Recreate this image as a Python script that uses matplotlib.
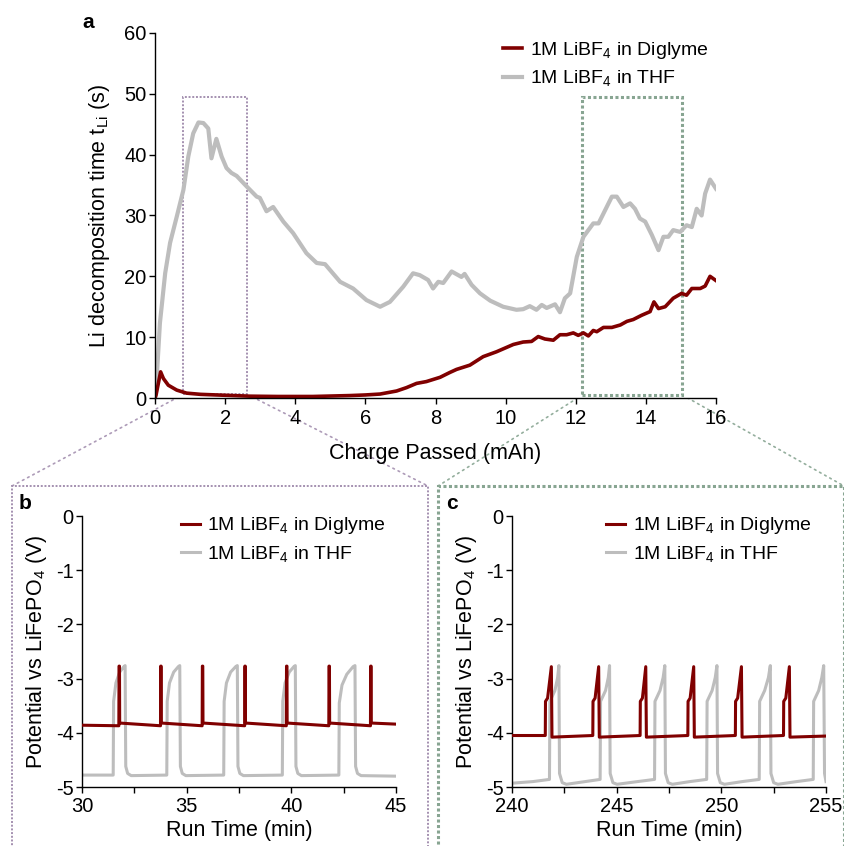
import matplotlib
matplotlib.use("Agg")
import matplotlib.pyplot as plt
from matplotlib.patches import Rectangle, ConnectionPatch
from matplotlib.ticker import MultipleLocator

plt.rcParams['font.family'] = ['Liberation Sans', 'DejaVu Sans']
plt.rcParams['mathtext.default'] = 'regular'

# ---------------- data: panel a ----------------
thf_x = [0.0, 0.02, 0.14, 0.29, 0.43, 0.62, 0.81, 0.95, 1.09, 1.24, 1.38, 1.52, 1.61, 1.75, 1.90,
         2.04, 2.18, 2.33, 2.61, 2.90, 2.99, 3.18, 3.37, 3.66, 3.94, 4.32, 4.61, 4.85, 5.28, 5.65,
         6.03, 6.42, 6.70, 7.08, 7.36, 7.55, 7.79, 7.93, 8.08, 8.22, 8.46, 8.74, 8.83, 9.03, 9.27,
         9.56, 9.93, 10.31, 10.50, 10.69, 10.88, 11.03, 11.17, 11.41, 11.55, 11.69, 11.84, 12.03,
         12.22, 12.50, 12.65, 12.84, 13.03, 13.17, 13.36, 13.55, 13.69, 13.83, 13.98, 14.17, 14.36,
         14.50, 14.64, 14.78, 14.98, 15.16, 15.31, 15.45, 15.59, 15.69, 15.83, 16.0]
thf_y = [0.0, 0.5, 12.3, 20.5, 25.5, 29.8, 34.2, 39.7, 43.5, 45.3, 45.2, 44.3, 39.4, 42.6, 39.7,
         37.8, 37.0, 36.5, 34.8, 33.1, 32.9, 30.7, 31.4, 29.0, 27.1, 23.8, 22.2, 22.0, 19.1, 18.0,
         16.1, 15.0, 15.8, 18.3, 20.5, 20.2, 19.4, 18.0, 19.1, 18.9, 20.8, 19.9, 20.4, 18.6, 17.2,
         16.0, 15.0, 14.5, 14.6, 15.1, 14.5, 15.3, 14.8, 15.4, 14.1, 16.4, 17.2, 23.2,
         26.5, 28.7, 28.7, 30.9, 33.1, 33.1, 31.4, 32.0, 31.1, 29.5, 29.0, 26.8, 24.3,
         26.5, 26.5, 27.6, 27.3, 28.4, 28.1, 31.1, 30.0, 33.6, 35.9, 34.4]

dig_x = [0.0, 0.03, 0.16, 0.24, 0.38, 0.62, 0.9, 1.3, 1.75, 2.7, 3.5, 4.5, 5.56, 6.0, 6.42, 6.89,
         7.17, 7.46, 7.74, 8.13, 8.41, 8.60, 8.98, 9.36, 9.74, 10.22, 10.50, 10.74, 10.93, 11.12,
         11.36, 11.55, 11.74, 11.93, 12.07, 12.22, 12.36, 12.50, 12.60, 12.79, 13.03, 13.27, 13.46,
         13.64, 13.88, 14.12, 14.23, 14.36, 14.55, 14.78, 15.02, 15.16, 15.31, 15.55, 15.69, 15.83, 16.0]
dig_y = [0.0, 0.5, 4.3, 3.2, 2.1, 1.3, 0.8, 0.6, 0.5, 0.3, 0.25, 0.25, 0.4, 0.5, 0.65, 1.15,
         1.7, 2.4, 2.7, 3.4, 4.2, 4.7, 5.4, 6.8, 7.6, 8.8, 9.2, 9.3, 10.1, 9.7,
         9.5, 10.4, 10.4, 10.7, 10.3, 10.7, 10.2, 11.1, 10.9, 11.6, 11.6, 12.0, 12.6,
         12.9, 13.6, 14.2, 15.8, 14.7, 15.0, 16.4, 17.2, 16.9, 18.0, 18.0, 18.4, 20.0, 19.3]

# zoom windows marked in panel a (x range mAh, y range s)
zoom_b = [0.81, 2.63, 0.6, 49.4]
zoom_c = [12.19, 15.04, 0.5, 49.4]

# ---------------- data: panel b ----------------
b_dig_t = [30.0, 31.76, 31.77, 31.79, 31.80, 33.75, 33.76, 33.78, 33.79, 35.74, 35.75, 35.77, 35.78,
           37.77, 37.78, 37.80, 37.81, 39.76, 39.77, 39.79, 39.80, 41.79, 41.80, 41.82, 41.83,
           43.78, 43.79, 43.81, 43.82, 45.0]
b_dig_v = [-3.86, -3.87, -2.77, -2.77, -3.82, -3.87, -2.77, -2.77, -3.82, -3.87, -2.77, -2.77, -3.82,
           -3.87, -2.77, -2.77, -3.82, -3.87, -2.77, -2.77, -3.82, -3.87, -2.77, -2.77, -3.82,
           -3.87, -2.77, -2.77, -3.82, -3.84]

b_thf_t = [30.0,
           31.49, 31.51, 31.62, 31.80, 32.00, 32.06, 32.09, 32.18, 32.35,
           34.05, 34.07, 34.18, 34.38, 34.60, 34.67, 34.70, 34.79, 34.96,
           36.77, 36.79, 36.90, 37.10, 37.34, 37.42, 37.45, 37.54, 37.71,
           39.57, 39.59, 39.70, 39.90, 40.12, 40.19, 40.22, 40.31, 40.48,
           42.27, 42.29, 42.42, 42.65, 42.95, 43.04, 43.07, 43.16, 43.33,
           45.0]
b_thf_v = [-4.78,
           -4.78, -3.42, -3.08, -2.88, -2.78, -2.76, -4.62, -4.75, -4.79,
           -4.78, -3.42, -3.08, -2.88, -2.78, -2.76, -4.62, -4.75, -4.79,
           -4.78, -3.42, -3.08, -2.88, -2.78, -2.76, -4.62, -4.75, -4.79,
           -4.78, -3.42, -3.08, -2.88, -2.78, -2.76, -4.62, -4.75, -4.79,
           -4.78, -3.45, -3.12, -2.92, -2.78, -2.76, -4.62, -4.75, -4.79,
           -4.80]

# ---------------- data: panel c ----------------
c_dig_t = [240.0,
           241.59, 241.60, 241.70, 241.88, 241.91, 243.86,
           243.87, 243.97, 244.14, 244.17, 246.12,
           246.13, 246.23, 246.39, 246.42, 248.40,
           248.41, 248.51, 248.68, 248.71, 250.67,
           250.68, 250.78, 250.96, 250.99, 252.97,
           252.98, 253.08, 253.25, 253.28, 255.0]
c_dig_v = [-4.05,
           -4.05, -3.42, -3.36, -2.78, -4.08, -4.05,
           -3.42, -3.36, -2.78, -4.08, -4.05,
           -3.42, -3.36, -2.78, -4.08, -4.05,
           -3.42, -3.36, -2.78, -4.08, -4.05,
           -3.42, -3.36, -2.78, -4.08, -4.05,
           -3.42, -3.36, -2.78, -4.08, -4.06]

c_thf_t = [240.0, 241.0,
           241.79, 241.81, 242.05, 242.18, 242.24, 242.27, 242.40, 242.60, 243.5,
           244.21, 244.23, 244.47, 244.60, 244.66, 244.69, 244.82, 245.02, 246.0,
           246.81, 246.83, 247.07, 247.22, 247.30, 247.33, 247.46, 247.66, 248.5,
           249.30, 249.32, 249.56, 249.71, 249.79, 249.82, 249.95, 250.15, 251.0,
           251.81, 251.83, 252.07, 252.25, 252.34, 252.37, 252.50, 252.70, 253.6,
           254.39, 254.41, 254.65, 254.80, 254.89, 254.93, 255.0]
c_thf_v = [-4.93, -4.90,
           -4.86, -3.42, -3.22, -2.98, -2.76, -4.75, -4.92, -4.95, -4.90,
           -4.86, -3.42, -3.22, -2.98, -2.76, -4.75, -4.92, -4.95, -4.90,
           -4.86, -3.42, -3.22, -2.98, -2.76, -4.75, -4.92, -4.95, -4.90,
           -4.86, -3.42, -3.22, -2.98, -2.76, -4.75, -4.92, -4.95, -4.90,
           -4.86, -3.42, -3.22, -2.98, -2.76, -4.75, -4.92, -4.95, -4.90,
           -4.86, -3.42, -3.22, -2.98, -2.76, -4.75, -4.90]

lab_dig = "1M LiBF$_4$ in Diglyme"
lab_thf = "1M LiBF$_4$ in THF"

RED = "#800000"
GRAY = "#bdbdbd"
PURPLE = "#a490b0"
GREEN = "#88a592"

W, H = 845, 846
fig = plt.figure(figsize=(W / 100, H / 100), dpi=100)

TICK_FS = 14.5
LAB_FS = 15.5
LEG_FS = 14


def rect(l, t, r, b):
    return [l / W, 1 - b / H, (r - l) / W, (b - t) / H]


def style(ax, pad=2):
    for s in ['top', 'right']:
        ax.spines[s].set_visible(False)
    for s in ['left', 'bottom']:
        ax.spines[s].set_linewidth(1.0)
    ax.tick_params(which='both', direction='out', length=4, width=1, labelsize=TICK_FS, pad=2)
    ax.tick_params(axis='x', pad=pad)


# ---------- panel a ----------
axa = fig.add_axes(rect(155, 33, 716, 398))
axa.plot(thf_x, thf_y, color=GRAY, lw=3.0, label=lab_thf, solid_joinstyle='round')
axa.plot(dig_x, dig_y, color=RED, lw=2.6, label=lab_dig, solid_joinstyle='round')
axa.set_xlim(0, 16)
axa.set_ylim(0, 60)
axa.set_xticks(range(0, 17, 2))
axa.set_yticks(range(0, 61, 10))
style(axa, pad=4)
axa.set_xlabel("Charge Passed (mAh)", fontsize=LAB_FS, labelpad=11)
axa.set_ylabel("Li decomposition time t$_{Li}$ (s)", fontsize=LAB_FS, labelpad=9)
hd, ld = axa.get_legend_handles_labels()
axa.legend([hd[1], hd[0]], [ld[1], ld[0]], loc='upper left', bbox_to_anchor=(0.60, 1.014),
           frameon=False, fontsize=LEG_FS, handlelength=0.95, handletextpad=0.4, labelspacing=0.4,
           borderaxespad=0.2)
for z, col, lw, pat in [(zoom_b, PURPLE, 1.4, (0, (1, 0.9))), (zoom_c, GREEN, 2.2, (0, (1, 0.8)))]:
    axa.add_patch(Rectangle((z[0], z[2]), z[1] - z[0], z[3] - z[2], fill=False,
                            edgecolor=col, lw=lw, linestyle=pat, zorder=1, clip_on=False))
fig.text(88 / W, 1 - 22 / H, "a", fontsize=15, fontweight='bold', ha='center', va='center')

# ---------- panels b, c ----------
axb = fig.add_axes(rect(82, 516, 396, 787))
axc = fig.add_axes(rect(512, 516, 826, 787))
for ax, tt, tv, dt, dv, x0, x1 in [(axb, b_thf_t, b_thf_v, b_dig_t, b_dig_v, 30, 45),
                                   (axc, c_thf_t, c_thf_v, c_dig_t, c_dig_v, 240, 255)]:
    ax.plot(dt, dv, color=RED, lw=2.2, label=lab_dig, zorder=3)
    ax.plot(tt, tv, color=GRAY, lw=2.2, label=lab_thf, zorder=2)
    ax.set_xlim(x0, x1)
    ax.set_ylim(-5, 0)
    ax.xaxis.set_major_locator(MultipleLocator(5))
    ax.xaxis.set_minor_locator(MultipleLocator(2.5))
    ax.set_yticks([0, -1, -2, -3, -4, -5])
    ax.set_yticklabels(['0', '-1', '-2', '-3', '-4', '-5'])
    style(ax, pad=3)
    ax.set_xlabel("Run Time (min)", fontsize=LAB_FS, labelpad=3)
    ax.set_ylabel("Potential vs LiFePO$_4$ (V)", fontsize=LAB_FS, labelpad=5)
    ax.legend(loc='upper left', bbox_to_anchor=(0.26 if ax is axb else 0.245, 1.067), frameon=False,
              fontsize=LEG_FS, handlelength=0.95, handletextpad=0.4, labelspacing=0.4)
fig.text(25 / W, 1 - 503 / H, "b", fontsize=15, fontweight='bold', ha='center', va='center')
fig.text(452 / W, 1 - 503 / H, "c", fontsize=15, fontweight='bold', ha='center', va='center')

# ---------- frames and connector lines ----------
frames = [(12, 428, PURPLE, 1.4, (0, (1, 0.9)), zoom_b),
          (438, 844, GREEN, 2.2, (0, (1, 0.8)), zoom_c)]
for l, r, col, lw, pat, z in frames:
    fig.patches.append(Rectangle((l / W, -0.02), (r - l) / W, 1 - 486 / H + 0.02,
                                 transform=fig.transFigure, fill=False, edgecolor=col, lw=lw,
                                 linestyle=pat, zorder=0))
    for xa, xf in [(z[0], l), (z[1], r)]:
        cp = ConnectionPatch(xyA=(xa, z[2]), coordsA=axa.transData,
                             xyB=(xf / W, 1 - 486 / H), coordsB=fig.transFigure,
                             color=col, lw=1.2, linestyle=(0, (1, 2.5)), zorder=0, alpha=0.9)
        fig.add_artist(cp)

fig.savefig("out.png", dpi=100)
